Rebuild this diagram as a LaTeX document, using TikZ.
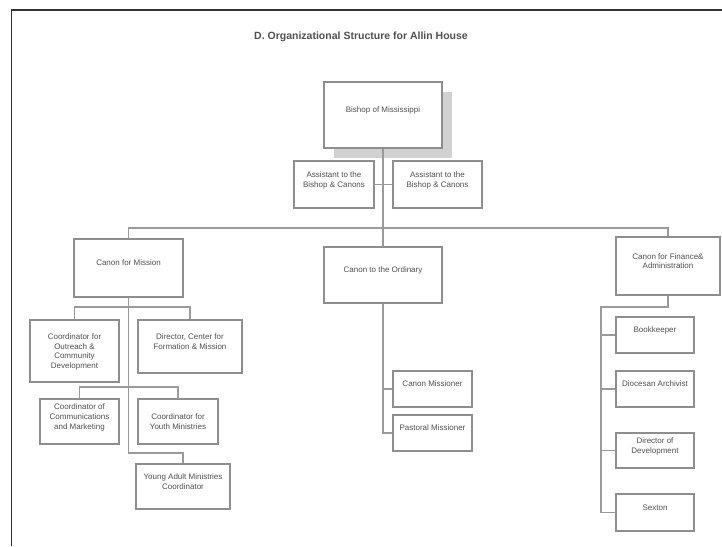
\documentclass[tikz,border=0pt]{standalone}
\usepackage{fontspec}
\setmainfont{Liberation Sans}
\usetikzlibrary{positioning,shadows}

\definecolor{boxline}{HTML}{8E8E8E}
\definecolor{linkline}{HTML}{9A9A9A}
\definecolor{boxtext}{HTML}{505050}

\begin{document}
\begin{tikzpicture}[
    x=1pt, y=-1pt,
    box/.style={rectangle, draw=boxline, line width=1.2pt, fill=white, align=center,
        inner sep=2pt, text depth=10pt, text=boxtext, font=\fontsize{8}{9.6}\selectfont},
    bigbox/.style={box, line width=2.6pt},
    link/.style={draw=linkline, line width=1.2pt},
    title/.style={font=\fontsize{10.5}{12}\selectfont\bfseries, text=boxtext}
]
\useasboundingbox (0,0) rectangle (722,546);

% page frame
\draw[line width=1.8pt, black!80] (722,10) -| (11.5,546);

% Title
\node[title] (chart-title) at (361,37) {D. Organizational Structure for Allin House};

% Bishop and assistants
\node[bigbox, minimum width=118pt, minimum height=66pt,
      drop shadow={shadow xshift=10pt, shadow yshift=-10pt, fill=black!18, opacity=1}]
      (bishop) at (383,115) {Bishop of Mississippi};
\node[box, minimum width=80pt, minimum height=47pt] (assistant-l) at (334,184.5) {Assistant to the\\Bishop \& Canons};
\node[box, minimum width=89pt, minimum height=47pt] (assistant-r) at (437.5,184.5) {Assistant to the\\Bishop \& Canons};

% Canons
\node[bigbox, minimum width=109pt, minimum height=58pt] (mission) at (128.5,268) {Canon for Mission};
\node[bigbox, minimum width=118pt, minimum height=56pt] (ordinary) at (383,275) {Canon to the Ordinary};
\node[bigbox, minimum width=104pt, minimum height=58pt] (finance) at (668,266) {Canon for Finance\&\\Administration};

% Mission staff
\node[box, minimum width=89pt, minimum height=62pt, text depth=0pt] (outreach) at (74.5,351) {Coordinator for\\Outreach \&\\Community\\Development};
\node[box, minimum width=104pt, minimum height=53pt] (formation) at (190,346.5) {Director, Center for\\Formation \& Mission};
\node[box, minimum width=79pt, minimum height=45pt] (communications) at (79.5,421.5) {Coordinator of\\Communications\\and Marketing};
\node[box, minimum width=80pt, minimum height=45pt, text depth=0pt] (youth) at (178,421.5) {Coordinator for\\Youth Ministries};
\node[box, minimum width=94pt, minimum height=45pt] (young-adult) at (183,486.5) {Young Adult Ministries\\Coordinator};

% Ordinary staff
\node[box, minimum width=79pt, minimum height=36pt] (canon-missioner) at (432.5,389) {Canon Missioner};
\node[box, minimum width=79pt, minimum height=36pt] (pastoral) at (432.5,433) {Pastoral Missioner};

% Finance staff
\node[box, minimum width=78pt, minimum height=36pt] (bookkeeper) at (655,335) {Bookkeeper};
\node[box, minimum width=78pt, minimum height=36pt] (archivist) at (655,389) {Diocesan Archivist};
\node[box, minimum width=78pt, minimum height=35pt] (development) at (655,450.5) {Director of\\Development};
\node[box, minimum width=78pt, minimum height=37pt] (sexton) at (655,512.5) {Sexton};

% junction points
\coordinate (bus) at (383,228);
\coordinate (mission-j1) at (128.5,307);
\coordinate (mission-j2) at (128.5,387);
\coordinate (mission-end) at (128.5,453);
\coordinate (ordinary-end) at (383,433);
\coordinate (finance-bend) at (601,307);

% Connectors
\draw[link] (bishop.south) -- (ordinary.north);
\draw[link] (assistant-l.east) -- (assistant-r.west);
\draw[link] (mission.north) |- (bus) -| (finance.north);

\draw[link] (mission.south) -- (mission-end) -| (young-adult.north);
\draw[link] (outreach.north) |- (mission-j1) -| (formation.north);
\draw[link] (communications.north) |- (mission-j2) -| (youth.north);

\draw[link] (ordinary.south) -- (ordinary-end) -- (pastoral.west);
\draw[link] (canon-missioner.west) -- (canon-missioner.west -| ordinary-end);

\draw[link] (finance.south) |- (finance-bend) |- (sexton.west);
\foreach \staff in {bookkeeper, archivist, development}
    \draw[link] (\staff.west) -- (\staff.west -| finance-bend);

\end{tikzpicture}
\end{document}
